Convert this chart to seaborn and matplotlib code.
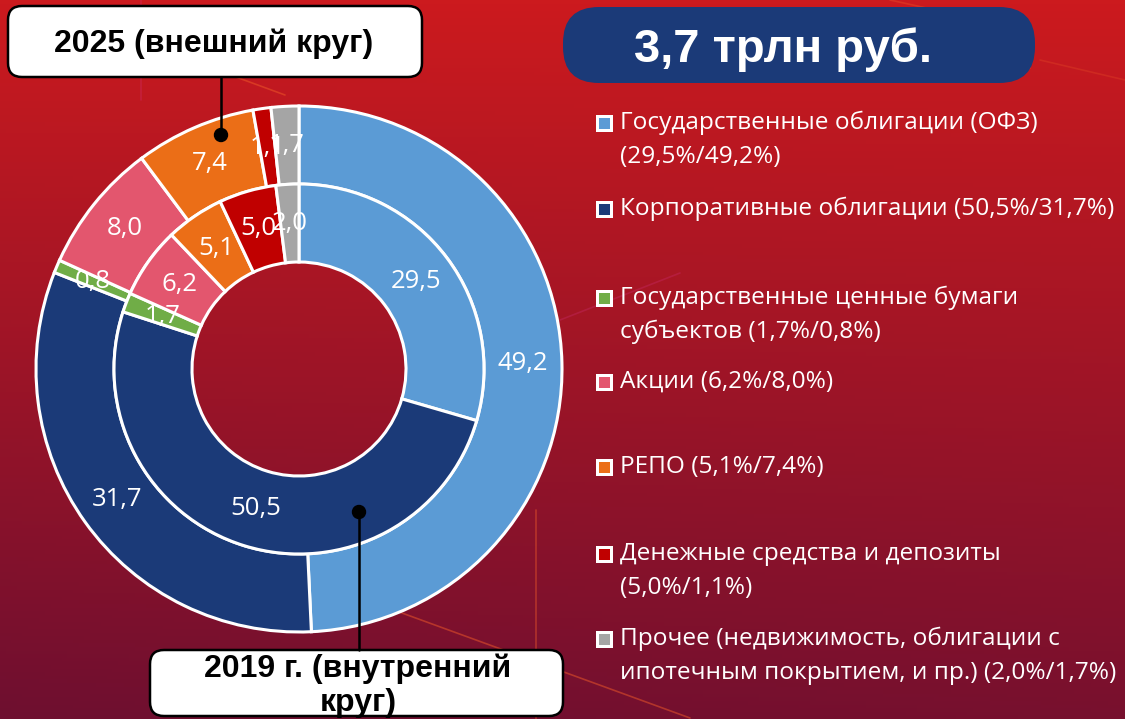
import matplotlib
matplotlib.use("Agg")
import matplotlib.pyplot as plt
import seaborn as sns
import numpy as np
from matplotlib.patches import FancyBboxPatch, Circle, Rectangle

# data: shares of pension savings portfolio, % (inner ring 2019, outer ring 2025)
categories = ["Государственные облигации (ОФЗ)", "Корпоративные облигации",
              "Государственные ценные бумаги субъектов", "Акции", "РЕПО",
              "Денежные средства и депозиты",
              "Прочее (недвижимость, облигации с ипотечным покрытием, и пр.)"]
share_2019 = [29.5, 50.5, 1.7, 6.2, 5.1, 5.0, 2.0]
share_2025 = [49.2, 31.7, 0.8, 8.0, 7.4, 1.1, 1.7]
seg_colors = ["#5B9BD5", "#1B3A78", "#70AD47", "#E3566E", "#EB6E17", "#C00000", "#A5A5A5"]
legend_lines = [["Государственные облигации (ОФЗ)", "(29,5%/49,2%)"],
                ["Корпоративные облигации (50,5%/31,7%)"],
                ["Государственные ценные бумаги", "субъектов (1,7%/0,8%)"],
                ["Акции (6,2%/8,0%)"],
                ["РЕПО (5,1%/7,4%)"],
                ["Денежные средства и депозиты", "(5,0%/1,1%)"],
                ["Прочее (недвижимость, облигации с", "ипотечным покрытием, и пр.) (2,0%/1,7%)"]]
total_label = "3,7 трлн руб."
outer_label = "2025 (внешний круг)"
inner_label = "2019 г. (внутренний\nкруг)"

sns.set_theme(style="white")
plt.rcParams['font.family'] = ['Open Sans', 'DejaVu Sans']
palette = sns.color_palette(seg_colors)

W, H = 1125, 719
fig = plt.figure(figsize=(W / 100, H / 100), dpi=100)

# background gradient
ax_bg = fig.add_axes([0, 0, 1, 1], zorder=0)
yy = np.linspace(0, 1, 200)[:, None]
xx = np.linspace(0, 1, 200)[None, :]
t = np.clip(0.9 * yy + 0.1 * (1 - xx) * yy, 0, 1)
top = np.array([204, 26, 30]) / 255
bot = np.array([110, 15, 48]) / 255
img = top[None, None, :] * (1 - t[..., None]) + bot[None, None, :] * t[..., None]
ax_bg.imshow(img, extent=[0, W, H, 0], aspect='auto')
ax_bg.set_xlim(0, W)
ax_bg.set_ylim(H, 0)
# faint decorative strokes
for (x0, y0, x1, y1, c, a) in [(225, 73, 285, 95, "#F05A28", 0.5),
                               (380, 605, 690, 718, "#F05A28", 0.5),
                               (536, 510, 536, 719, "#F05A28", 0.45),
                               (560, 320, 680, 273, "#D0307A", 0.3),
                               (141, 0, 141, 100, "#D0307A", 0.3),
                               (973, 47, 1030, 68, "#F05A28", 0.45),
                               (890, 0, 990, 22, "#F05A28", 0.35),
                               (1040, 60, 1125, 80, "#F05A28", 0.25)]:
    ax_bg.plot([x0, x1], [y0, y1], color=c, alpha=a, lw=1.2)
ax_bg.axis('off')

# donut chart, axes in pixel units centred on (299, 369)
cx, cy, R = 299, 369, 263
ring = 78
ax = fig.add_axes([(cx - 280) / W, (H - cy - 280) / H, 560 / W, 560 / H], zorder=1)
ax.patch.set_alpha(0)

fmt = lambda v: f"{v:.1f}".replace(".", ",")
for vals, radius in [(share_2025, R), (share_2019, R - ring)]:
    wedges, _ = ax.pie(vals, radius=radius, colors=palette, startangle=90,
                       counterclock=False,
                       wedgeprops=dict(width=ring, edgecolor='white', linewidth=2.2))
    for w, v in zip(wedges, vals):
        ang = np.deg2rad((w.theta1 + w.theta2) / 2)
        r = w.r - w.width / 2
        ax.text(r * np.cos(ang), r * np.sin(ang), fmt(v), color='white',
                fontsize=18.5, ha='center', va='center')
ax.set_xlim(-280, 280)
ax.set_ylim(-280, 280)
ax.axis('off')

# overlay in pixel coordinates
ov = fig.add_axes([0, 0, 1, 1], zorder=2)
ov.patch.set_alpha(0)
ov.set_xlim(0, W)
ov.set_ylim(H, 0)
ov.axis('off')

bold = dict(family=['Liberation Sans', 'DejaVu Sans'], weight='bold', color='black')

# callout for outer ring
ov.add_patch(FancyBboxPatch((8, 6), 414, 71, boxstyle="round,pad=0,rounding_size=14",
                            fc='white', ec='black', lw=1.8))
ov.text(214, 52, outer_label, fontsize=23, ha='center', va='baseline', **bold)
ov.plot([221, 221], [77, 135], color='black', lw=1.8)
ov.add_patch(Circle((221, 135), 6.5, color='black'))

# callout for inner ring
ov.plot([359, 359], [512, 650], color='black', lw=1.8)
ov.add_patch(Circle((359, 512), 6.5, color='black'))
ov.add_patch(FancyBboxPatch((150, 650), 413, 66, boxstyle="round,pad=0,rounding_size=14",
                            fc='white', ec='black', lw=1.8))
for i, line in enumerate(inner_label.split("\n")):
    ov.text(358, 677 + i * 34, line, fontsize=23, ha='center', va='baseline', **bold)

# total pill
ov.add_patch(FancyBboxPatch((563, 7), 472, 76, boxstyle="round,pad=0,rounding_size=36",
                            fc='#1B3A78', ec='none'))
ov.text(783, 62, total_label, fontsize=34, ha='center', va='baseline',
        family=['Liberation Sans', 'DejaVu Sans'], weight='bold', color='white')

# legend
row_y = [123, 209, 298, 382, 467, 554, 639]
for y, lines, col in zip(row_y, legend_lines, palette):
    ov.add_patch(Rectangle((596, y - 8.5), 17, 17, fc='white', ec='none'))
    ov.add_patch(Rectangle((599, y - 5.5), 11, 11, fc=col, ec='none'))
    for i, line in enumerate(lines):
        ov.text(620, y + i * 34, line, fontsize=17.6, color='white',
                ha='left', va='center')

fig.savefig("out.png", dpi=100)
